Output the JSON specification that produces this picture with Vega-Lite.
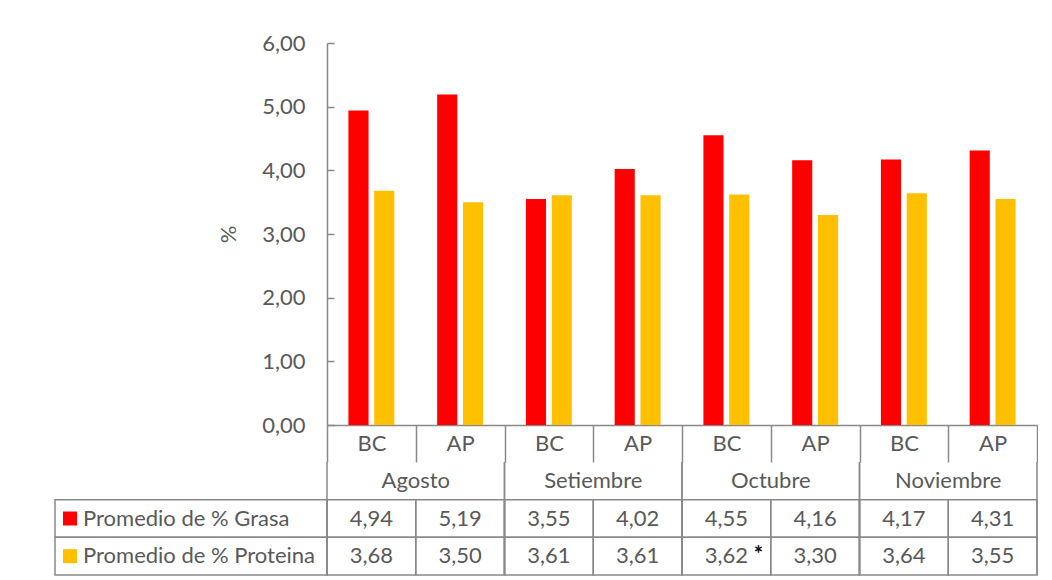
{
  "$schema": "https://vega.github.io/schema/vega-lite/v6.json",
  "background": "white",
  "padding": {"left": 54, "top": 32, "right": 0, "bottom": 0},
  "columns": 2,
  "align": "each",
  "bounds": "flush",
  "spacing": {"row": 37, "column": 0},
  "config": {
    "locale": {"number": {"decimal": ",", "thousands": ".", "grouping": [3], "currency": ["", " €"]}},
    "view": {"stroke": null},
    "font": "Lato",
    "text": {"font": "Lato", "fontSize": 22, "color": "#595959"}
  },
  "datasets": {
    "promedios": [
      {"mes": "Agosto", "tipo": "BC", "grupo": "Agosto BC", "serie": "Promedio de % Grasa", "valor": 4.94, "nota": ""},
      {"mes": "Agosto", "tipo": "BC", "grupo": "Agosto BC", "serie": "Promedio de % Proteina", "valor": 3.68, "nota": ""},
      {"mes": "Agosto", "tipo": "AP", "grupo": "Agosto AP", "serie": "Promedio de % Grasa", "valor": 5.19, "nota": ""},
      {"mes": "Agosto", "tipo": "AP", "grupo": "Agosto AP", "serie": "Promedio de % Proteina", "valor": 3.50, "nota": ""},
      {"mes": "Setiembre", "tipo": "BC", "grupo": "Setiembre BC", "serie": "Promedio de % Grasa", "valor": 3.55, "nota": ""},
      {"mes": "Setiembre", "tipo": "BC", "grupo": "Setiembre BC", "serie": "Promedio de % Proteina", "valor": 3.61, "nota": ""},
      {"mes": "Setiembre", "tipo": "AP", "grupo": "Setiembre AP", "serie": "Promedio de % Grasa", "valor": 4.02, "nota": ""},
      {"mes": "Setiembre", "tipo": "AP", "grupo": "Setiembre AP", "serie": "Promedio de % Proteina", "valor": 3.61, "nota": ""},
      {"mes": "Octubre", "tipo": "BC", "grupo": "Octubre BC", "serie": "Promedio de % Grasa", "valor": 4.55, "nota": ""},
      {"mes": "Octubre", "tipo": "BC", "grupo": "Octubre BC", "serie": "Promedio de % Proteina", "valor": 3.62, "nota": "*"},
      {"mes": "Octubre", "tipo": "AP", "grupo": "Octubre AP", "serie": "Promedio de % Grasa", "valor": 4.16, "nota": ""},
      {"mes": "Octubre", "tipo": "AP", "grupo": "Octubre AP", "serie": "Promedio de % Proteina", "valor": 3.30, "nota": ""},
      {"mes": "Noviembre", "tipo": "BC", "grupo": "Noviembre BC", "serie": "Promedio de % Grasa", "valor": 4.17, "nota": ""},
      {"mes": "Noviembre", "tipo": "BC", "grupo": "Noviembre BC", "serie": "Promedio de % Proteina", "valor": 3.64, "nota": ""},
      {"mes": "Noviembre", "tipo": "AP", "grupo": "Noviembre AP", "serie": "Promedio de % Grasa", "valor": 4.31, "nota": ""},
      {"mes": "Noviembre", "tipo": "AP", "grupo": "Noviembre AP", "serie": "Promedio de % Proteina", "valor": 3.55, "nota": ""}
    ],
    "series": [
      {"serie": "Promedio de % Grasa"}, {"serie": "Promedio de % Proteina"}
    ]
  },
  "concat": [
    {
      "width": 272,
      "height": 382,
      "data": {"values": []},
      "mark": {"type": "point", "opacity": 0},
      "encoding": {}
    },
    {
      "width": 710,
      "height": 382,
      "data": {"name": "promedios"},
      "mark": {"type": "bar"},
      "encoding": {
        "x": {
          "field": "grupo", "type": "nominal",
          "scale": {
            "domain": ["Agosto BC", "Agosto AP", "Setiembre BC", "Setiembre AP", "Octubre BC", "Octubre AP", "Noviembre BC", "Noviembre AP"],
            "paddingInner": 0, "paddingOuter": 0
          },
          "axis": {
            "title": null,
            "domainColor": "#898989", "domainWidth": 1.5,
            "tickBand": "extent", "tickSize": 37, "tickColor": "#898989", "tickWidth": 1.5,
            "labelExpr": "split(datum.value, ' ')[1]",
            "labelAngle": 0, "labelFont": "Lato", "labelFontSize": 22, "labelColor": "#595959",
            "labelPadding": -19, "labelBaseline": "middle"
          }
        },
        "xOffset": {
          "field": "serie", "type": "nominal",
          "scale": {"domain": ["Promedio de % Grasa", "Promedio de % Proteina"], "paddingInner": 0.22, "paddingOuter": 0.83}
        },
        "y": {
          "field": "valor", "type": "quantitative",
          "scale": {"domain": [0, 6], "nice": false},
          "axis": {
            "title": "%", "titleFont": "Lato", "titleFontSize": 22, "titleFontWeight": "normal", "titleColor": "#595959", "titlePadding": 21,
            "values": [0, 1, 2, 3, 4, 5, 6], "format": ".2f", "grid": false,
            "domainColor": "#898989", "domainWidth": 1.5,
            "tickColor": "#898989", "tickWidth": 1.5, "tickSize": -7,
            "labelFont": "Lato", "labelFontSize": 22, "labelColor": "#595959", "labelPadding": 29,
            "labelFlush": false, "labelOverlap": false
          }
        },
        "color": {
          "field": "serie", "type": "nominal",
          "scale": {"domain": ["Promedio de % Grasa", "Promedio de % Proteina"], "range": ["#FF0000", "#FFC000"]},
          "legend": null
        }
      }
    },
    {
      "width": 272,
      "height": 113,
      "data": {"name": "series"},
      "encoding": {
        "y": {
          "field": "serie", "type": "nominal",
          "scale": {"domain": ["Mes", "Promedio de % Grasa", "Promedio de % Proteina"], "paddingInner": 0, "paddingOuter": 0},
          "axis": null
        }
      },
      "layer": [
        {
          "mark": {"type": "rect", "fill": "transparent", "stroke": "#898989", "strokeWidth": 1.5}
        },
        {
          "mark": {"type": "square", "size": 196, "filled": true, "opacity": 1},
          "encoding": {
            "x": {"datum": "clave", "type": "nominal", "scale": {"type": "point", "domain": ["clave", "nombre"], "range": [15, 28], "padding": 0}, "axis": null},
            "color": {
              "field": "serie", "type": "nominal",
              "scale": {"domain": ["Promedio de % Grasa", "Promedio de % Proteina"], "range": ["#FF0000", "#FFC000"]},
              "legend": null
            }
          }
        },
        {
          "mark": {"type": "text", "align": "left"},
          "encoding": {
            "x": {"datum": "nombre", "type": "nominal", "scale": {"type": "point", "domain": ["clave", "nombre"], "range": [15, 28], "padding": 0}, "axis": null},
            "text": {"field": "serie"}
          }
        }
      ]
    },
    {
      "width": 710,
      "height": 113,
      "data": {"name": "promedios"},
      "encoding": {
        "x": {
          "field": "grupo", "type": "nominal",
          "scale": {
            "domain": ["Agosto BC", "Agosto AP", "Setiembre BC", "Setiembre AP", "Octubre BC", "Octubre AP", "Noviembre BC", "Noviembre AP"],
            "paddingInner": 0, "paddingOuter": 0
          },
          "axis": null
        }
      },
      "layer": [
        {
          "transform": [{"filter": "datum.tipo == 'BC' && datum.serie == 'Promedio de % Grasa'"}],
          "mark": {"type": "rule", "color": "#898989", "strokeWidth": 1.5},
          "encoding": {
            "x": {"field": "grupo", "type": "nominal", "bandPosition": 0}
          }
        },
        {
          "transform": [{"filter": "datum.tipo == 'AP' && datum.serie == 'Promedio de % Grasa'"}],
          "mark": {"type": "rule", "color": "#898989", "strokeWidth": 1.5},
          "encoding": {
            "x": {"field": "grupo", "type": "nominal", "bandPosition": 1}
          }
        },
        {
          "transform": [{"filter": "datum.tipo == 'BC' && datum.serie == 'Promedio de % Grasa'"}],
          "mark": {"type": "text"},
          "encoding": {
            "x": {"field": "grupo", "type": "nominal", "bandPosition": 1},
            "y": {"datum": "Mes", "type": "nominal",
              "scale": {"domain": ["Mes", "Promedio de % Grasa", "Promedio de % Proteina"], "paddingInner": 0, "paddingOuter": 0}, "axis": null},
            "text": {"field": "mes"}
          }
        },
        {
          "mark": {"type": "rect", "fill": "transparent", "stroke": "#898989", "strokeWidth": 1.5},
          "encoding": {
            "y": {"field": "serie", "type": "nominal",
              "scale": {"domain": ["Mes", "Promedio de % Grasa", "Promedio de % Proteina"], "paddingInner": 0, "paddingOuter": 0}, "axis": null}
          }
        },
        {
          "mark": {"type": "text"},
          "encoding": {
            "y": {"field": "serie", "type": "nominal"},
            "text": {"field": "valor", "type": "quantitative", "format": ".2f"}
          }
        },
        {
          "transform": [{"filter": "datum.nota != ''"}],
          "mark": {"type": "text", "color": "black", "fontWeight": "bold", "dx": 32, "dy": -1},
          "encoding": {
            "y": {"field": "serie", "type": "nominal"},
            "text": {"field": "nota"}
          }
        }
      ]
    }
  ]
}
